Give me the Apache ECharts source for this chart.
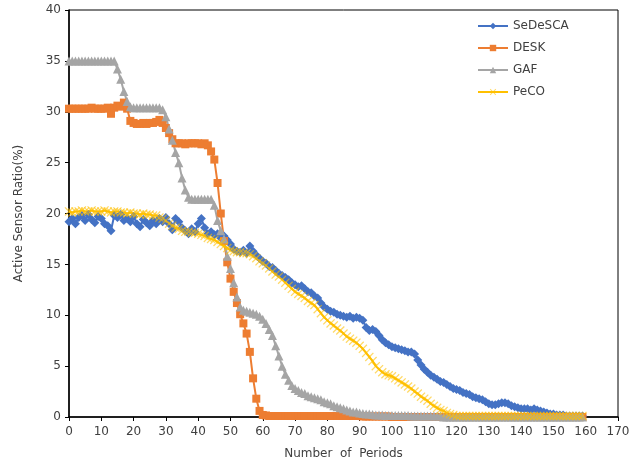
<!DOCTYPE html>
<html>
<head>
<meta charset="utf-8">
<script src="https://cdn.jsdelivr.net/npm/echarts@6/dist/echarts.min.js"></script>
<style>
  html, body { margin: 0; padding: 0; background: #fff; }
  #chart { width: 642px; height: 473px; }
</style>
</head>
<body>
<div id="chart"></div>
<script>
// periods 0..159
var periods = [];
for (var i = 0; i < 160; i++) periods.push(i);

var xTicks = [0, 10, 20, 30, 40, 50, 60, 70, 80, 90, 100, 110, 120, 130, 140, 150, 160, 170];
var yTicks = [0, 5, 10, 15, 20, 25, 30, 35, 40];

var sedesca = [
  19.2, 19.5, 19.0, 19.6, 19.8, 19.3, 19.9, 19.4, 19.1, 19.7,
  19.5, 19.0, 18.8, 18.3, 19.8, 19.6, 19.9, 19.3, 19.5, 19.2,
  19.7, 19.0, 18.7, 19.4, 19.1, 18.8, 19.3, 19.0, 19.5, 19.2,
  19.6, 19.0, 18.4, 19.5, 19.2, 18.6, 18.3, 18.0, 18.5, 18.2,
  19.0, 19.5, 18.6, 18.0, 18.2, 17.9, 18.0, 17.6, 17.8, 17.4,
  17.0, 16.5, 16.3, 16.2, 16.4, 16.1, 16.8, 16.3, 15.9, 15.6,
  15.3, 15.1, 14.8, 14.7, 14.4, 14.1, 13.9, 13.7, 13.5, 13.2,
  13.0, 12.8, 12.9, 12.6, 12.3, 12.2, 11.9, 11.7, 11.2, 10.8,
  10.6, 10.4, 10.3, 10.1, 10.0, 9.9, 9.8, 9.9, 9.7, 9.8,
  9.7, 9.5, 8.8, 8.5, 8.6, 8.4, 8.0, 7.6, 7.3, 7.1,
  6.9, 6.8, 6.7, 6.6, 6.5, 6.4, 6.4, 6.2, 5.6, 5.1,
  4.7, 4.4, 4.1, 3.9, 3.7, 3.5, 3.4, 3.2, 3.0, 2.8,
  2.7, 2.6, 2.4, 2.3, 2.2, 2.0, 1.9, 1.8, 1.7, 1.5,
  1.3, 1.2, 1.2, 1.3, 1.4, 1.4, 1.3, 1.1, 1.0, 0.9,
  0.8, 0.8, 0.8, 0.7, 0.8, 0.7, 0.6, 0.5, 0.4, 0.3,
  0.3, 0.2, 0.2, 0.2, 0.1, 0.1, 0.1, 0.1, 0.1, 0.1
];

var desk = [
  30.3, 30.3, 30.3, 30.3, 30.3, 30.3, 30.3, 30.4, 30.3, 30.3,
  30.3, 30.3, 30.4, 29.8, 30.4, 30.6, 30.5, 30.9, 30.3, 29.1,
  28.9, 28.8, 28.8, 28.9, 28.8, 28.9, 28.9, 29.0, 29.2, 28.9,
  28.4, 27.9, 27.3, 26.9, 26.9, 26.9, 26.8, 26.9, 26.9, 26.9,
  26.9, 26.8, 26.9, 26.7, 26.1, 25.3, 23.0, 20.0, 17.3, 15.2,
  13.6, 12.3, 11.2, 10.1, 9.2, 8.2, 6.4, 3.8, 1.8, 0.6,
  0.2, 0.15, 0.1, 0.1, 0.1, 0.1, 0.1, 0.1, 0.1, 0.1,
  0.1, 0.1, 0.1, 0.1, 0.1, 0.1, 0.1, 0.1, 0.1, 0.1,
  0.1, 0.1, 0.1, 0.1, 0.1, 0.1, 0.1, 0.1, 0.1, 0.1,
  0.1, 0.05, 0.05, 0.05, 0.05, 0.05, 0.05, 0.05, 0.05, 0.05,
  0, 0, 0, 0, 0, 0, 0, 0, 0, 0,
  0, 0, 0, 0, 0, 0, 0, 0, 0, 0,
  0, 0, 0, 0, 0, 0, 0, 0, 0, 0,
  0, 0, 0, 0, 0, 0, 0, 0, 0, 0,
  0, 0, 0, 0, 0, 0, 0, 0, 0, 0,
  0, 0, 0, 0, 0, 0, 0, 0, 0, 0
];

var gaf = [
  35.0, 35.0, 35.0, 35.0, 35.0, 35.0, 35.0, 35.0, 35.0, 35.0,
  35.0, 35.0, 35.0, 35.0, 35.0, 34.2, 33.2, 32.0, 31.0, 30.5,
  30.4, 30.4, 30.4, 30.4, 30.4, 30.4, 30.4, 30.4, 30.4, 30.2,
  29.5, 28.3, 27.2, 26.0, 25.0, 23.5, 22.3, 21.6, 21.4, 21.4,
  21.4, 21.4, 21.4, 21.4, 21.4, 20.8, 19.3, 18.3, 17.5, 15.8,
  14.6, 13.2, 11.8, 10.8, 10.5, 10.4, 10.3, 10.2, 10.1, 9.9,
  9.6, 9.2, 8.6, 8.0, 7.0, 6.0, 5.0, 4.2, 3.6, 3.1,
  2.8, 2.6, 2.4, 2.3, 2.1, 2.0, 1.9, 1.8, 1.7, 1.5,
  1.4, 1.3, 1.1, 1.0, 0.9, 0.8, 0.7, 0.6, 0.5, 0.5,
  0.4, 0.35, 0.3, 0.3, 0.25, 0.2, 0.2, 0.2, 0.15, 0.15,
  0.15, 0.15, 0.15, 0.15, 0.15, 0.15, 0.1, 0.1, 0.1, 0.1,
  0.1, 0.1, 0.1, 0.1, 0.1, 0.1, 0, 0, 0, 0,
  0, 0, 0, 0, 0, 0, 0, 0, 0, 0,
  0, 0, 0, 0, 0, 0, 0, 0, 0, 0,
  0, 0, 0, 0, 0, 0, 0, 0, 0, 0,
  0, 0, 0, 0, 0, 0, 0, 0, 0, 0
];

var peco = [
  20.2, 20.1, 20.2, 20.2, 20.3, 20.2, 20.2, 20.3, 20.2, 20.2,
  20.2, 20.3, 20.2, 20.1, 20.2, 20.2, 20.1, 20.1, 20.0, 20.1,
  20.0, 20.0, 19.9, 20.0, 19.9, 19.9, 19.8, 19.8, 19.6, 19.5,
  19.3, 19.0, 18.8, 18.6, 18.5, 18.3, 18.2, 18.2, 18.1, 18.1,
  18.0, 17.9, 17.8, 17.6, 17.5, 17.4, 17.2, 17.0, 16.8, 16.6,
  16.4, 16.3, 16.2, 16.2, 16.1, 16.1, 16.0, 15.8, 15.6, 15.3,
  15.1, 14.9, 14.6, 14.3, 14.0, 13.8, 13.5, 13.2, 12.9, 12.6,
  12.3, 12.1, 11.9, 11.7, 11.4, 11.2, 11.0, 10.6, 10.2, 9.8,
  9.5, 9.2, 9.0, 8.7, 8.5, 8.2, 7.9, 7.7, 7.5, 7.3,
  7.0, 6.7, 6.3, 5.9, 5.5, 5.0, 4.7, 4.4, 4.2, 4.1,
  4.0, 3.8, 3.6, 3.4, 3.2, 3.0, 2.8, 2.5, 2.3, 2.0,
  1.8, 1.6, 1.3, 1.1, 0.9, 0.7, 0.6, 0.4, 0.3, 0.2,
  0.1, 0.1, 0.1, 0.1, 0.1, 0.1, 0.1, 0.1, 0.1, 0.1,
  0.1, 0.1, 0.1, 0.1, 0.1, 0.1, 0.1, 0.1, 0.1, 0.1,
  0.1, 0.1, 0.1, 0.1, 0.1, 0.1, 0.1, 0.1, 0.1, 0.1,
  0.1, 0.1, 0.1, 0.1, 0.1, 0.1, 0.1, 0.1, 0.1, 0.1
];

function pairs(vals) {
  return periods.map(function (p, i) { return [p, vals[i]]; });
}

var xMark = "path://M1,0 L5,4 L9,0 L10,1 L6,5 L10,9 L9,10 L5,6 L1,10 L0,9 L4,5 L0,1 Z";
var font = "DejaVu Sans";

var chart = echarts.init(document.getElementById("chart"));
var option = {
  animation: false,
  backgroundColor: "#fff",
  textStyle: { fontFamily: font },
  grid: {
    left: 69, right: 24, top: 10, bottom: 56,
    show: true, borderColor: "#000", borderWidth: 1
  },
  legend: {
    orient: "vertical",
    left: 472,
    top: 15,
    itemWidth: 30,
    itemHeight: 8,
    itemGap: 10,
    textStyle: { fontFamily: font, fontSize: 12, color: "#404040" },
    data: ["SeDeSCA", "DESK", "GAF", "PeCO"]
  },
  xAxis: {
    type: "value",
    min: xTicks[0],
    max: xTicks[xTicks.length - 1],
    interval: 10,
    name: "Number  of  Periods",
    nameLocation: "middle",
    nameGap: 31,
    nameTextStyle: { fontFamily: font, fontSize: 12, color: "#404040" },
    axisLine: { onZero: false, lineStyle: { color: "#000", width: 1.5 } },
    axisTick: { show: true, length: 4, lineStyle: { color: "#000" } },
    axisLabel: { fontFamily: font, fontSize: 12, color: "#404040", margin: 9 },
    splitLine: { show: false }
  },
  yAxis: {
    type: "value",
    min: yTicks[0],
    max: yTicks[yTicks.length - 1],
    interval: 5,
    name: "Active Sensor Ratio(%)",
    nameLocation: "middle",
    nameGap: 44,
    nameTextStyle: { fontFamily: font, fontSize: 12, color: "#404040" },
    axisLine: { show: true, lineStyle: { color: "#000", width: 1.5 } },
    axisTick: { show: true, length: 4, lineStyle: { color: "#000" } },
    axisLabel: { fontFamily: font, fontSize: 12, color: "#404040", margin: 8 },
    splitLine: { show: false }
  },
  series: [
    {
      name: "SeDeSCA", type: "line", data: pairs(sedesca),
      symbol: "diamond", symbolSize: 9,
      itemStyle: { color: "#4472C4" },
      lineStyle: { color: "#4472C4", width: 2 }
    },
    {
      name: "DESK", type: "line", data: pairs(desk),
      symbol: "rect", symbolSize: 8,
      itemStyle: { color: "#ED7D31" },
      lineStyle: { color: "#ED7D31", width: 2 }
    },
    {
      name: "GAF", type: "line", data: pairs(gaf),
      symbol: "triangle", symbolSize: 9,
      itemStyle: { color: "#A5A5A5" },
      lineStyle: { color: "#A5A5A5", width: 2 }
    },
    {
      name: "PeCO", type: "line", data: pairs(peco),
      symbol: xMark, symbolSize: 9,
      itemStyle: { color: "rgba(255,192,0,0.6)" },
      lineStyle: { color: "#FFC000", width: 2 }
    }
  ]
};
chart.setOption(option);
</script>
</body>
</html>
